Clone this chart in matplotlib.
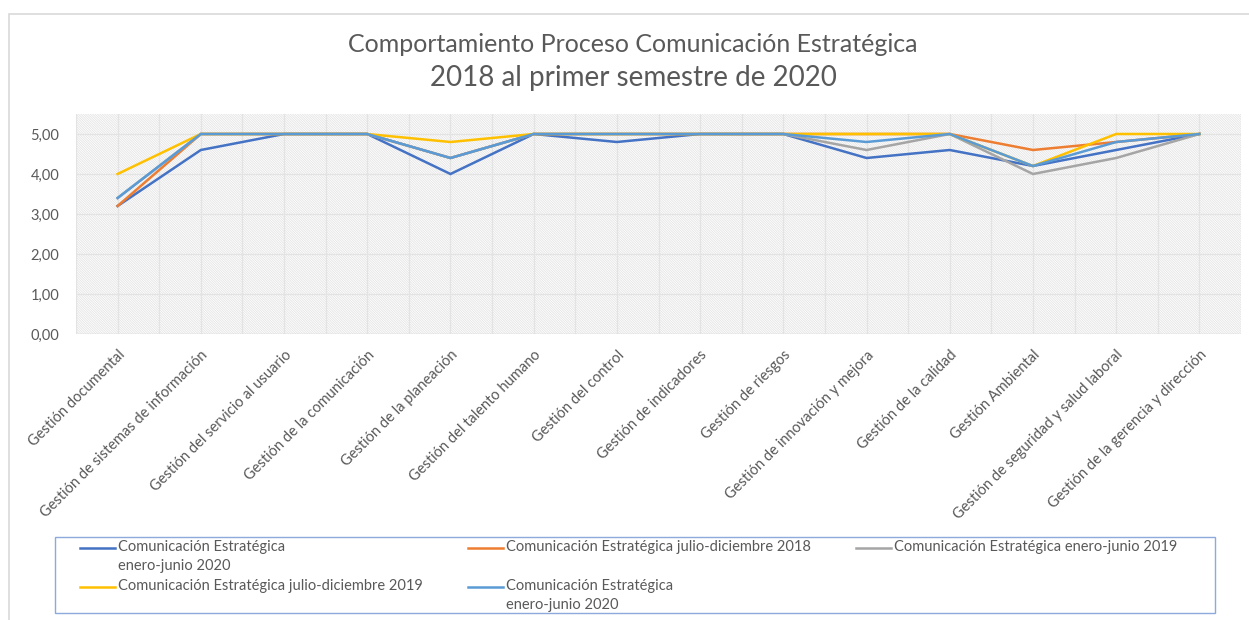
import matplotlib.pyplot as plt
from matplotlib.patches import Rectangle
from matplotlib.lines import Line2D
import numpy as np

plt.rcParams['font.family'] = ['Lato', 'DejaVu Sans']
plt.rcParams['hatch.linewidth'] = 0.6

W, H = 1249, 620

categories = ['Gestión documental', 'Gestión de sistemas de información',
              'Gestión del servicio al usuario', 'Gestión de la comunicación',
              'Gestión de la planeación', 'Gestión del talento humano',
              'Gestión del control', 'Gestión de indicadores', 'Gestión de riesgos',
              'Gestión de innovación y mejora', 'Gestión de la calidad',
              'Gestión Ambiental', 'Gestión de seguridad y salud laboral',
              'Gestión de la gerencia y dirección']

# series values
ene_jun_2020_a = [3.2, 4.6, 5.0, 5.0, 4.0, 5.0, 4.8, 5.0, 5.0, 4.4, 4.6, 4.2, 4.6, 5.0]
jul_dic_2018 = [3.2, 5.0, 5.0, 5.0, 4.4, 5.0, 5.0, 5.0, 5.0, 5.0, 5.0, 4.6, 4.8, 5.0]
ene_jun_2019 = [3.4, 5.0, 5.0, 5.0, 4.4, 5.0, 5.0, 5.0, 5.0, 4.6, 5.0, 4.0, 4.4, 5.0]
jul_dic_2019 = [4.0, 5.0, 5.0, 5.0, 4.8, 5.0, 5.0, 5.0, 5.0, 5.0, 5.0, 4.2, 5.0, 5.0]
ene_jun_2020_b = [3.4, 5.0, 5.0, 5.0, 4.4, 5.0, 5.0, 5.0, 5.0, 4.8, 5.0, 4.2, 4.8, 5.0]

series = [ene_jun_2020_a, jul_dic_2018, ene_jun_2019, jul_dic_2019, ene_jun_2020_b]
labels = ['Comunicación Estratégica\nenero-junio 2020',
          'Comunicación Estratégica julio-diciembre 2018',
          'Comunicación Estratégica enero-junio 2019',
          'Comunicación Estratégica julio-diciembre 2019',
          'Comunicación Estratégica\nenero-junio 2020']
colors = ['#4472C4', '#ED7D31', '#A5A5A5', '#FFC000', '#5B9BD5']

txt = '#595959'

def fx(px):
    return px / W

def fy(py):
    return 1 - py / H

fig = plt.figure(figsize=(W / 100, H / 100), dpi=100)

# chart border
fig.patches.append(Rectangle((fx(9), fy(640)), fx(1270) - fx(9), fy(14) - fy(640),
                             transform=fig.transFigure, fill=False,
                             edgecolor='#d9d9d9', lw=1.2, zorder=0))

ax = fig.add_axes([fx(76), fy(334), fx(1241) - fx(76), fy(114) - fy(334)])
ax.set_facecolor('white')
# diagonal pattern fill of the plot area
ax.add_patch(Rectangle((0, 0), 1, 1, transform=ax.transAxes, facecolor='none',
                       edgecolor='#e4e4e4', hatch='\\' * 14, lw=0, zorder=0))

x = np.arange(len(categories))
for vals, c in zip(series, colors):
    ax.plot(x, vals, color=c, lw=1.8, zorder=3, solid_joinstyle='miter')

ax.set_xlim(-0.5, len(categories) - 0.5)
ax.set_ylim(0, 5.5)
yt = np.arange(0, 6, 1)
ax.set_yticks(yt)
ax.set_yticklabels([('%.2f' % v).replace('.', ',') for v in yt])
for v in yt:
    ax.axhline(v, color='#e3e3e3', lw=0.9, zorder=1)
for xv in np.arange(-0.5, len(categories), 0.5):
    ax.axvline(xv, color='#e3e3e3', lw=0.9, zorder=1)
ax.axhline(0, color='#d9d9d9', lw=1.0, zorder=2)

ax.set_xticks(x)
ax.set_xticklabels(categories, rotation=45, ha='right', rotation_mode='anchor',
                   fontsize=10.5, color=txt)
ax.tick_params(axis='x', length=0, pad=10)
ax.tick_params(axis='y', length=0, pad=12, labelsize=10.5, labelcolor=txt)
for s in ax.spines.values():
    s.set_visible(False)

fig.text(0.507, fy(45), 'Comportamiento Proceso Comunicación Estratégica',
         ha='center', va='center', fontsize=18, color=txt)
fig.text(0.507, fy(78), '2018 al primer semestre de 2020',
         ha='center', va='center', fontsize=20, color=txt)

# legend box, laid out in rows like the original
fig.patches.append(Rectangle((fx(55), fy(613)), fx(1215) - fx(55), fy(537) - fy(613),
                             transform=fig.transFigure, fill=False,
                             edgecolor='#8EA9DB', lw=1.0))
col_x = [80, 468, 856]
row_y = [548, 587]
for i, (lab, c) in enumerate(zip(labels, colors)):
    cx = col_x[i % 3]
    cy = row_y[i // 3]
    fig.lines.append(Line2D([fx(cx), fx(cx + 35)], [fy(cy), fy(cy)],
                            transform=fig.transFigure, color=c, lw=1.8))
    fig.text(fx(cx + 38), fy(cy - 8), lab, ha='left', va='top', fontsize=10.5,
             color=txt, linespacing=1.45)

fig.savefig('out.png', dpi=100)
